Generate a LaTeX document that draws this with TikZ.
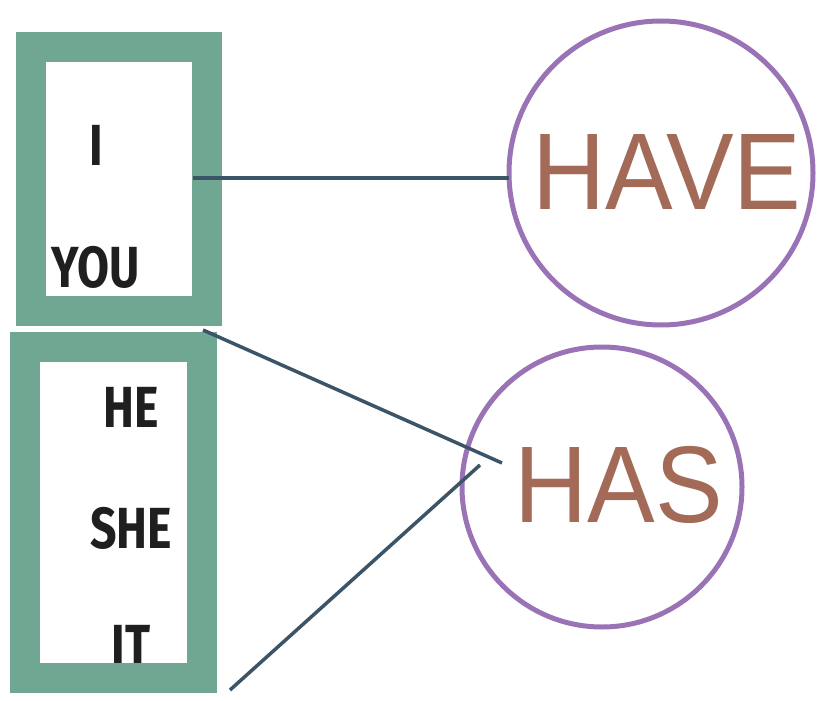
\documentclass[tikz,border=0pt]{standalone}
\usepackage{fontspec}
\setmainfont{Liberation Sans}
\newfontfamily\leftfont[FakeStretch=0.8]{Fira Sans}
\usetikzlibrary{calc}
\definecolor{boxgreen}{HTML}{6FA793}
\definecolor{ringpurple}{HTML}{9A73B6}
\definecolor{wordbrown}{HTML}{A26A57}
\definecolor{linkslate}{HTML}{3B5468}
\tikzset{
  frame/.style={draw=boxgreen, line width=30pt, inner sep=0pt, outer sep=0pt, rectangle},
  ring/.style={draw=ringpurple, line width=5pt, circle, inner sep=0pt, outer sep=0pt},
  pron/.style={font=\leftfont\bfseries\fontsize{58}{58}\selectfont, text=black!88, inner sep=0pt, anchor=base},
  verb/.style={font=\fontsize{109}{109}\selectfont, text=wordbrown, inner sep=0pt},
  link/.style={draw=linkslate, line width=3.5pt}
}
\begin{document}
\begin{tikzpicture}[x=1pt,y=-1pt]
\useasboundingbox (0,0) rectangle (817,701);
% pronoun texts (under the frames)
\node[pron] (ti) at (96,165) {I};
\node[pron] (tyou) at (96,287) {YOU};
\node[pron] (the) at (131,427) {HE};
\node[pron] (tshe) at (131,548) {SHE};
\node[pron] (tit) at (131,665) {IT};
% frames
\node[frame, minimum width=176pt, minimum height=264pt] (topbox) at (119,179) {};
\node[frame, minimum width=177pt, minimum height=331pt] (botbox) at (113,512) {};
% circles
\node[ring, minimum size=304pt] (have) at (661,173) {};
\node[ring, minimum size=280pt] (has) at (602,487) {};
\node[verb] (thave) at (667,172) {\scalebox{0.93}[1]{HAVE}};
\node[verb] (thas) at (619,485) {\scalebox{0.93}[1]{HAS}};
% connector ends
\coordinate (s1) at (193,178);
\coordinate (e1) at (s1 -| have.west);
\coordinate (s2) at (203,330);
\coordinate (e2) at (502,463);
\coordinate (s3) at (230,690);
\coordinate (e3) at (480,465);
\draw[link] (s1) -- (e1);
\draw[link] (s2) -- (e2);
\draw[link] (s3) -- (e3);
\end{tikzpicture}
\end{document}
